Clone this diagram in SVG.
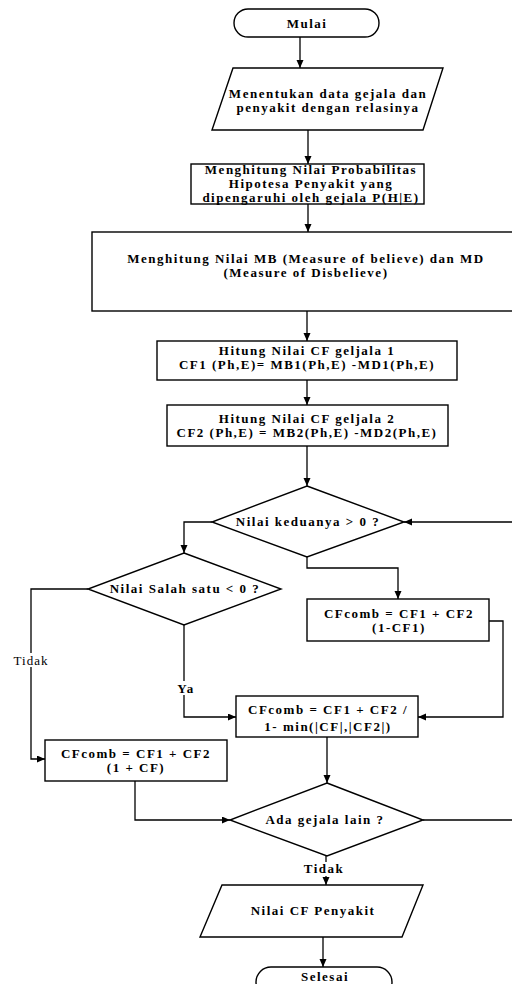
<svg xmlns="http://www.w3.org/2000/svg" width="512" height="984" viewBox="0 0 512 984">
  <style>
    .shape { fill: #ffffff; stroke: #000000; stroke-width: 1.4; }
    .conn { fill: none; stroke: #000000; stroke-width: 1.3; }
    .t { font-family: "Liberation Serif", "Times New Roman", serif; font-weight: bold; font-size: 13px; letter-spacing: 1.5px; fill: #000000; text-anchor: middle; }
    .lbl { font-family: "Liberation Serif", "Times New Roman", serif; font-size: 13px; letter-spacing: 1px; fill: #000000; text-anchor: middle; }
  </style>
  <defs>
    <marker id="arr" markerUnits="userSpaceOnUse" markerWidth="9" markerHeight="8" refX="8" refY="3.5" orient="auto">
      <path d="M0,0 L8,3.5 L0,7 z" fill="#000000"/>
    </marker>
  </defs>
  <rect width="512" height="984" fill="#ffffff"/>

  <g id="connectors">
    <path class="conn" d="M300,37 V68" marker-end="url(#arr)"/>
    <path class="conn" d="M308,130 V164" marker-end="url(#arr)"/>
    <path class="conn" d="M308,204 V232" marker-end="url(#arr)"/>
    <path class="conn" d="M307,311 V341" marker-end="url(#arr)"/>
    <path class="conn" d="M307,380 V405" marker-end="url(#arr)"/>
    <path class="conn" d="M307,446 V486" marker-end="url(#arr)"/>
    <path class="conn" d="M212,522 H184 V553" marker-end="url(#arr)"/>
    <path class="conn" d="M307,557 V568 H398 V599" marker-end="url(#arr)"/>
    <path class="conn" d="M88,589 H31 V759 H45" marker-end="url(#arr)"/>
    <path class="conn" d="M184,625 V717 H236" marker-end="url(#arr)"/>
    <path class="conn" d="M489,621 H503 V717 H418" marker-end="url(#arr)"/>
    <path class="conn" d="M327,737 V783" marker-end="url(#arr)"/>
    <path class="conn" d="M135,781 V820 H230" marker-end="url(#arr)"/>
    <path class="conn" d="M423,820 H514 V522 H404" marker-end="url(#arr)"/>
    <path class="conn" d="M326,856 V885" marker-end="url(#arr)"/>
    <path class="conn" d="M323,937 V967" marker-end="url(#arr)"/>
    <rect x="11" y="653" width="40" height="14" fill="#ffffff"/>
    <text class="lbl" x="31" y="665">Tidak</text>
    <rect x="174" y="681" width="22" height="14" fill="#ffffff"/>
    <text class="t" x="186" y="693">Ya</text>
    <rect x="302" y="862" width="44" height="14" fill="#ffffff"/>
    <text class="t" x="324" y="873">Tidak</text>
  </g>

  <g id="mulai">
    <rect class="shape" x="234" y="9" width="145" height="28" rx="14" ry="14"/>
    <text class="t" x="307" y="28">Mulai</text>
  </g>

  <g id="input-data">
    <polygon class="shape" points="233,68 443,68 423,130 212,130"/>
    <text class="t" x="328" y="98">Menentukan data gejala dan</text>
    <text class="t" x="328" y="112">penyakit dengan relasinya</text>
  </g>

  <g id="probabilitas">
    <rect class="shape" x="191" y="164" width="233" height="40"/>
    <text class="t" x="311" y="174">Menghitung Nilai Probabilitas</text>
    <text class="t" x="311" y="188">Hipotesa Penyakit yang</text>
    <text class="t" x="311" y="202">dipengaruhi oleh gejala P(H|E)</text>
  </g>

  <g id="mb-md">
    <rect class="shape" x="92" y="232" width="422" height="79"/>
    <text class="t" x="306" y="263">Menghitung Nilai MB (Measure of believe) dan MD</text>
    <text class="t" x="306" y="277">(Measure of Disbelieve)</text>
  </g>

  <g id="cf1">
    <rect class="shape" x="157" y="341" width="300" height="39"/>
    <text class="t" x="307" y="355">Hitung Nilai CF geljala 1</text>
    <text class="t" x="307" y="369">CF1 (Ph,E)= MB1(Ph,E) -MD1(Ph,E)</text>
  </g>

  <g id="cf2">
    <rect class="shape" x="167" y="405" width="281" height="41"/>
    <text class="t" x="307" y="423">Hitung Nilai CF geljala 2</text>
    <text class="t" x="307" y="437">CF2 (Ph,E) = MB2(Ph,E) -MD2(Ph,E)</text>
  </g>

  <g id="dec-keduanya">
    <polygon class="shape" points="307,486 404,522 307,557 212,522"/>
    <text class="t" x="308" y="526">Nilai keduanya &gt; 0 ?</text>
  </g>

  <g id="dec-salah-satu">
    <polygon class="shape" points="184,553 281,589 184,625 88,589"/>
    <text class="t" x="185" y="593">Nilai Salah satu &lt; 0 ?</text>
  </g>

  <g id="cfcomb-positive">
    <rect class="shape" x="307" y="599" width="182" height="42"/>
    <text class="t" x="399" y="618">CFcomb = CF1 + CF2</text>
    <text class="t" x="399" y="632">(1-CF1)</text>
  </g>

  <g id="cfcomb-mixed">
    <rect class="shape" x="236" y="696" width="182" height="41"/>
    <text class="t" x="328" y="714">CFcomb = CF1 + CF2 /</text>
    <text class="t" x="328" y="731">1- min(|CF|,|CF2|)</text>
  </g>

  <g id="cfcomb-negative">
    <rect class="shape" x="45" y="740" width="182" height="41"/>
    <text class="t" x="136" y="758">CFcomb = CF1 + CF2</text>
    <text class="t" x="136" y="772">(1 + CF)</text>
  </g>

  <g id="dec-gejala-lain">
    <polygon class="shape" points="327,783 423,820 327,856 230,820"/>
    <text class="t" x="325" y="824">Ada gejala lain ?</text>
  </g>

  <g id="output-cf">
    <polygon class="shape" points="222,885 423,885 402,937 200,937"/>
    <text class="t" x="313" y="915">Nilai CF Penyakit</text>
  </g>

  <g id="selesai">
    <rect class="shape" x="256" y="967" width="136" height="30" rx="15" ry="15"/>
    <text class="t" x="325" y="981">Selesai</text>
  </g>
</svg>
